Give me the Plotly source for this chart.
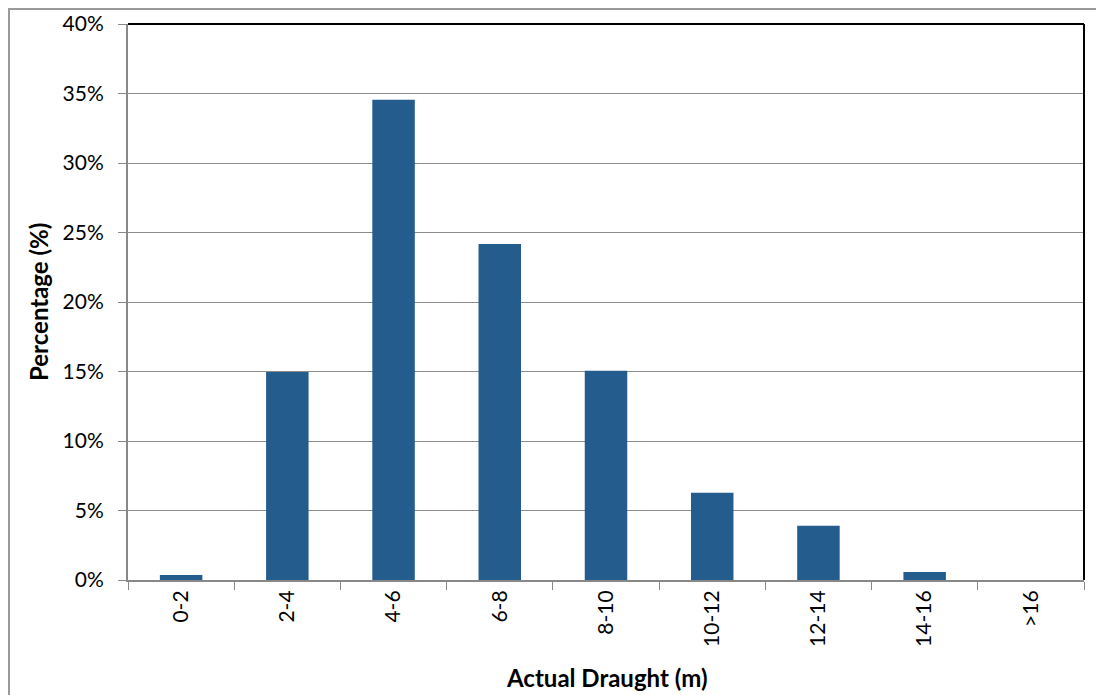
import plotly.graph_objects as go

categories = ["0-2", "2-4", "4-6", "6-8", "8-10", "10-12", "12-14", "14-16", ">16"]
percentages = [0.36, 14.96, 34.55, 24.17, 15.05, 6.27, 3.9, 0.58, 0.0]
y_tick_values = [0, 5, 10, 15, 20, 25, 30, 35, 40]
y_tick_labels = ["0%", "5%", "10%", "15%", "20%", "25%", "30%", "35%", "40%"]

FONT = "Lato, 'Open Sans', sans-serif"
# page body adds an 8px offset, so figure is sized to the remaining area
W, H = 1096, 687
L, R, T, B = 120, 20, 16, 115
pw, ph = W - L - R, H - T - B

fig = go.Figure(go.Bar(
    x=categories, y=percentages,
    marker=dict(color="#255C8E", line=dict(width=0)),
))

fig.update_layout(
    width=W, height=H,
    margin=dict(l=L, r=R, t=T, b=B, autoexpand=False),
    paper_bgcolor="white", plot_bgcolor="white",
    bargap=0.6,
    showlegend=False,
    font=dict(family=FONT, size=21, color="black"),
    xaxis=dict(
        type="category", tickangle=-90, tickson="boundaries",
        ticks="outside", ticklen=8, tickcolor="#888888",
        showline=True, linecolor="#888888", linewidth=2,
        showgrid=False, automargin=False,
        tickfont=dict(size=21),
    ),
    yaxis=dict(
        range=[0, 40], tickvals=y_tick_values, ticktext=y_tick_labels,
        ticks="outside", ticklen=8, tickcolor="#888888",
        showline=True, linecolor="#888888", linewidth=2,
        showgrid=True, gridcolor="#8C8C8C", gridwidth=1,
        zeroline=False, automargin=False,
        ticklabelstandoff=10,
        tickfont=dict(size=21),
    ),
    annotations=[
        dict(text="<b>Actual Draught (m)</b>", xref="paper", yref="paper",
             x=0.5, y=-(669 - (H - B)) / ph, xanchor="center", yanchor="middle",
             showarrow=False, font=dict(size=24)),
        dict(text="<b>Percentage (%)</b>", xref="paper", yref="paper",
             x=(30 - L) / pw, y=0.5, xanchor="center", yanchor="middle",
             textangle=-90, showarrow=False, font=dict(size=24)),
    ],
    shapes=[
        # plot area top and right borders
        dict(type="line", xref="paper", yref="paper", x0=0, x1=1, y0=1, y1=1,
             line=dict(color="black", width=2)),
        dict(type="line", xref="paper", yref="paper", x0=1, x1=1, y0=0, y1=1,
             line=dict(color="black", width=2)),
        # outer chart border
        dict(type="rect", xref="paper", yref="paper",
             x0=(1 - L) / pw, x1=(W + 10 - L) / pw,
             y0=-(B + 10) / ph, y1=1 + (T - 1) / ph,
             line=dict(color="#9A9A9A", width=2), layer="below"),
    ],
)

fig.write_html("out.html")
